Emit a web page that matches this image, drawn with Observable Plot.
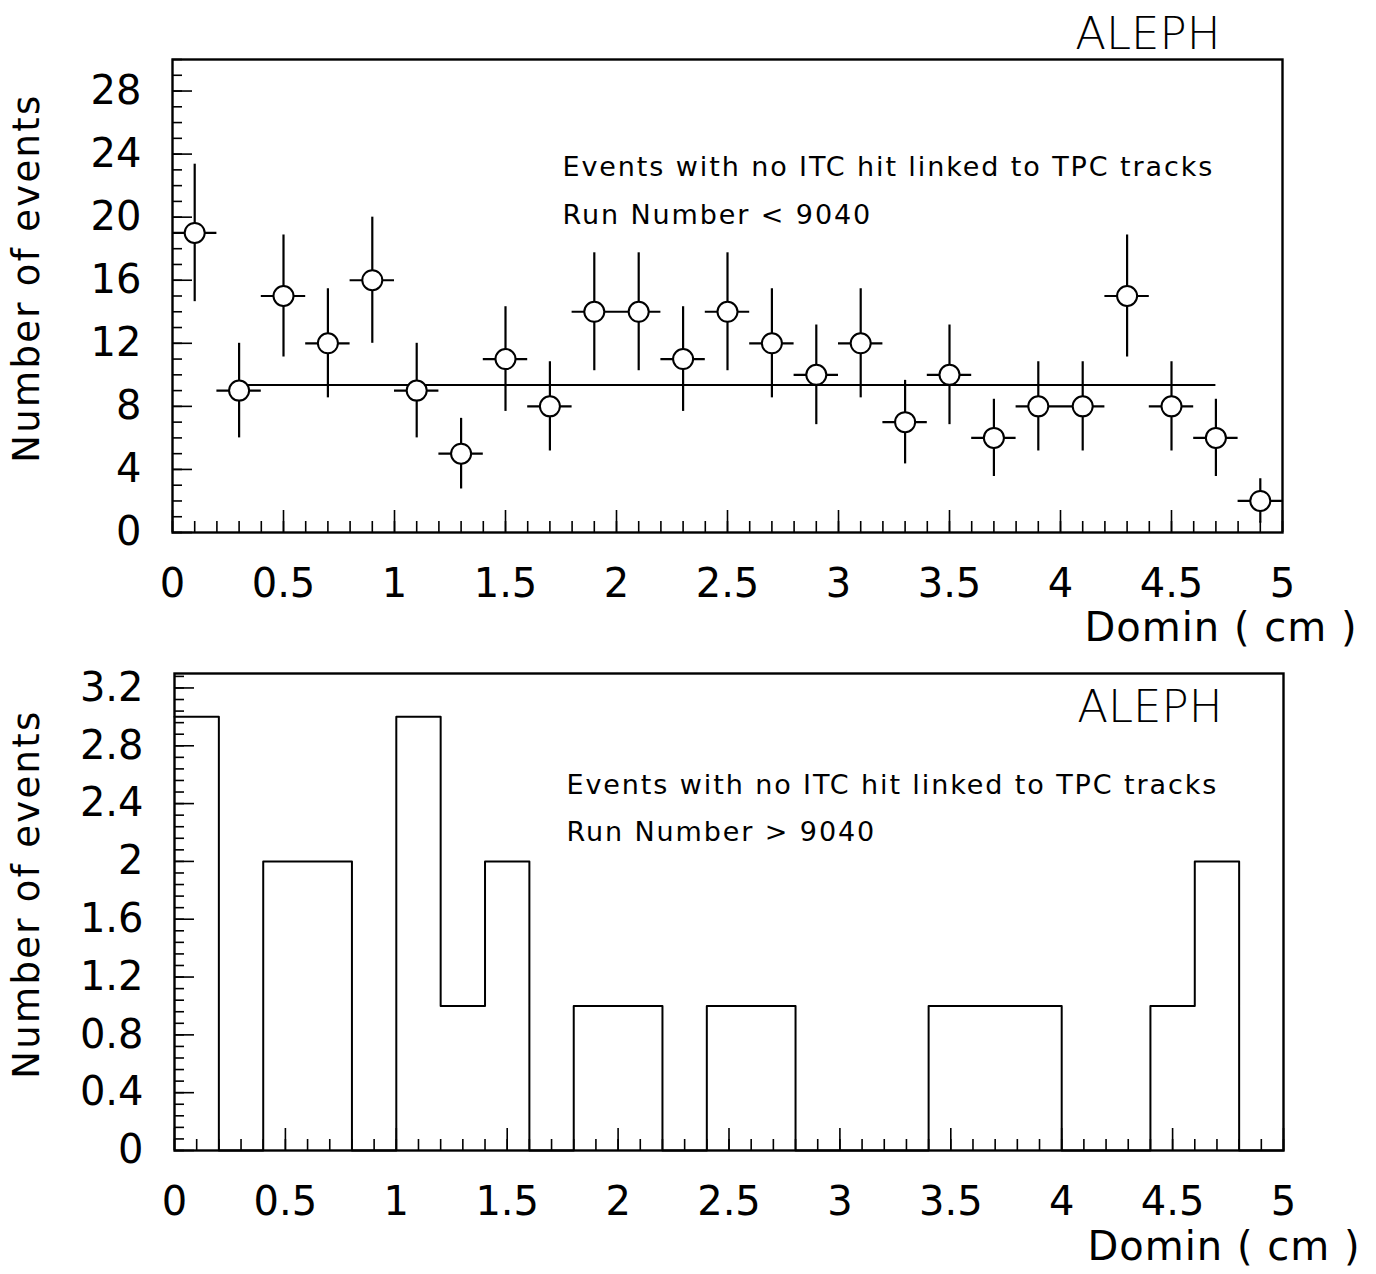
<!DOCTYPE html>
<html>
<head>
<meta charset="utf-8">
<script src="https://cdn.jsdelivr.net/npm/d3@7"></script>
<script src="https://cdn.jsdelivr.net/npm/@observablehq/plot@0.6"></script>
<style>
  html, body { margin: 0; padding: 0; background: #fff; }
  #top, #bottom { display: block; }
  svg { display: block; font-family: "DejaVu Sans", sans-serif; }
</style>
</head>
<body>
<div id="top"></div>
<div id="bottom"></div>
<script>
// ---- Top panel data (Run Number < 9040) ----
const binCenters = [0.1, 0.3, 0.5, 0.7, 0.9, 1.1, 1.3, 1.5, 1.7, 1.9, 2.1, 2.3, 2.5, 2.7, 2.9, 3.1, 3.3, 3.5, 3.7, 3.9, 4.1, 4.3, 4.5, 4.7, 4.9];
const countsEarly = [19, 9, 15, 12, 16, 9, 5, 11, 8, 14, 14, 11, 14, 12, 10, 12, 7, 10, 6, 8, 8, 15, 8, 6, 2];
const errorsEarly = [4.36, 3.0, 3.87, 3.46, 4.0, 3.0, 2.24, 3.32, 2.83, 3.74, 3.74, 3.32, 3.74, 3.46, 3.16, 3.46, 2.65, 3.16, 2.45, 2.83, 2.83, 3.87, 2.83, 2.45, 1.41];
const binHalfWidth = 0.1;
const fitLevel = 9.35;
const fitRange = [0.3, 4.7];

// ---- Bottom panel data (Run Number > 9040) ----
const binEdges = [0, 0.2, 0.4, 0.6, 0.8, 1.0, 1.2, 1.4, 1.6, 1.8, 2.0, 2.2, 2.4, 2.6, 2.8, 3.0, 3.2, 3.4, 3.6, 3.8, 4.0, 4.2, 4.4, 4.6, 4.8, 5.0];
const countsLate = [3, 0, 2, 2, 0, 3, 1, 2, 0, 1, 1, 0, 1, 1, 0, 0, 0, 1, 1, 1, 0, 0, 1, 2, 0];

// ---- Axis ticks / labels ----
const xMajor = [0, 0.5, 1, 1.5, 2, 2.5, 3, 3.5, 4, 4.5, 5];
const xMinor = d3.range(0, 51).map(i => i / 10);
const yMajorTop = [0, 4, 8, 12, 16, 20, 24, 28];
const yMinorTop = d3.range(0, 31);
const yMajorBot = [0, 0.4, 0.8, 1.2, 1.6, 2, 2.4, 2.8, 3.2];
const yMinorBot = d3.range(0, 42).map(i => i * 0.08).filter(v => v <= 3.3);

const title = "ALEPH";
const note1 = "Events with no ITC hit linked to TPC tracks";
const noteTop2 = "Run Number < 9040";
const noteBot2 = "Run Number > 9040";
const xLabel = "Domin ( cm )";
const yLabel = "Number of events";

const fmt = d => String(+d.toFixed(1));
const FONT = "DejaVu Sans";
const T = {fontFamily: FONT, fill: "#000", lineAnchor: "middle"};

const early = binCenters.map((x, i) => ({x, y: countsEarly[i], e: errorsEarly[i]}));
const fit = [{x1: fitRange[0], x2: fitRange[1], y: fitLevel}];

function axesMarks(yMajor, yMinor, ylabDx, ylabDy) {
  return [
    Plot.axisX({ticks: xMinor, tickSize: -11, text: null, label: null, strokeWidth: 1.6}),
    Plot.axisX({ticks: xMajor, tickSize: -22, text: null, label: null, strokeWidth: 1.6}),
    Plot.axisY({ticks: yMinor, tickSize: -10, text: null, label: null, strokeWidth: 1.6}),
    Plot.axisY({ticks: yMajor, tickSize: -20, text: null, label: null, strokeWidth: 1.6}),
    Plot.text(xMajor, {...T, x: d => d, frameAnchor: "bottom", dy: 52, text: fmt, fontSize: 40}),
    Plot.text(yMajor, {...T, y: d => d, frameAnchor: "left", dx: -31, textAnchor: "end", text: fmt, fontSize: 40}),
    Plot.text([yLabel], {...T, frameAnchor: "left", textAnchor: "middle", dx: ylabDx, dy: ylabDy, rotate: -90, text: d => d, fontSize: 37}),
    Plot.frame({stroke: "#000", strokeWidth: 2.4})
  ];
}

const topPlot = Plot.plot({
  width: 1376,
  height: 660,
  marginLeft: 172,
  marginRight: 94,
  marginTop: 59,
  marginBottom: 128,
  x: {domain: [0, 5], axis: null},
  y: {domain: [0, 30], axis: null},
  marks: [
    ...axesMarks(yMajorTop, yMinorTop, -145, -18),
    Plot.ruleY(fit, {x1: "x1", x2: "x2", y: "y", stroke: "#000", strokeWidth: 2}),
    Plot.ruleX(early, {x: "x", y1: d => d.y - d.e, y2: d => d.y + d.e, stroke: "#000", strokeWidth: 2.2}),
    Plot.ruleY(early, {y: "y", x1: d => d.x - binHalfWidth, x2: d => d.x + binHalfWidth, stroke: "#000", strokeWidth: 2.2}),
    Plot.dot(early, {x: "x", y: "y", r: 10, fill: "#fff", stroke: "#000", strokeWidth: 2}),
    Plot.text([title], {...T, frameAnchor: "top-right", dx: -62, dy: -25, textAnchor: "end", text: d => d, fontSize: 45, fontWeight: 300}),
    Plot.text([note1], {...T, frameAnchor: "top-left", dx: 390, dy: 108, textAnchor: "start", text: d => d, fontSize: 27}),
    Plot.text([noteTop2], {...T, frameAnchor: "top-left", dx: 390, dy: 156, textAnchor: "start", text: d => d, fontSize: 27}),
    Plot.text([xLabel], {...T, frameAnchor: "bottom-right", dx: 75, dy: 96, textAnchor: "end", text: d => d, fontSize: 40})
  ]
});
document.getElementById("top").appendChild(topPlot);

const histPts = binEdges.map((x, i) => ({x, y: i < countsLate.length ? countsLate[i] : 0}));

const botPlot = Plot.plot({
  width: 1376,
  height: 614,
  marginLeft: 174,
  marginRight: 93,
  marginTop: 13,
  marginBottom: 124,
  x: {domain: [0, 5], axis: null},
  y: {domain: [0, 3.3], axis: null},
  marks: [
    ...axesMarks(yMajorBot, yMinorBot, -147, -18),
    Plot.line(histPts, {x: "x", y: "y", curve: "step-after", stroke: "#000", strokeWidth: 2}),
    Plot.text([title], {...T, frameAnchor: "top-right", dx: -61, dy: 34, textAnchor: "end", text: d => d, fontSize: 45, fontWeight: 300}),
    Plot.text([note1], {...T, frameAnchor: "top-left", dx: 392, dy: 112, textAnchor: "start", text: d => d, fontSize: 27}),
    Plot.text([noteBot2], {...T, frameAnchor: "top-left", dx: 392, dy: 159, textAnchor: "start", text: d => d, fontSize: 27}),
    Plot.text([xLabel], {...T, frameAnchor: "bottom-right", dx: 77, dy: 97, textAnchor: "end", text: d => d, fontSize: 40})
  ]
});
document.getElementById("bottom").appendChild(botPlot);

// letter spacing tweaks to match the wide plotter font
const spacing = new Map([[note1, "1.9px"], [noteTop2, "1.9px"], [noteBot2, "1.9px"], [xLabel, "1px"], [yLabel, "2.3px"]]);
d3.selectAll("svg text").each(function () {
  const s = spacing.get(this.textContent);
  if (s) this.style.letterSpacing = s;
});
</script>
</body>
</html>
